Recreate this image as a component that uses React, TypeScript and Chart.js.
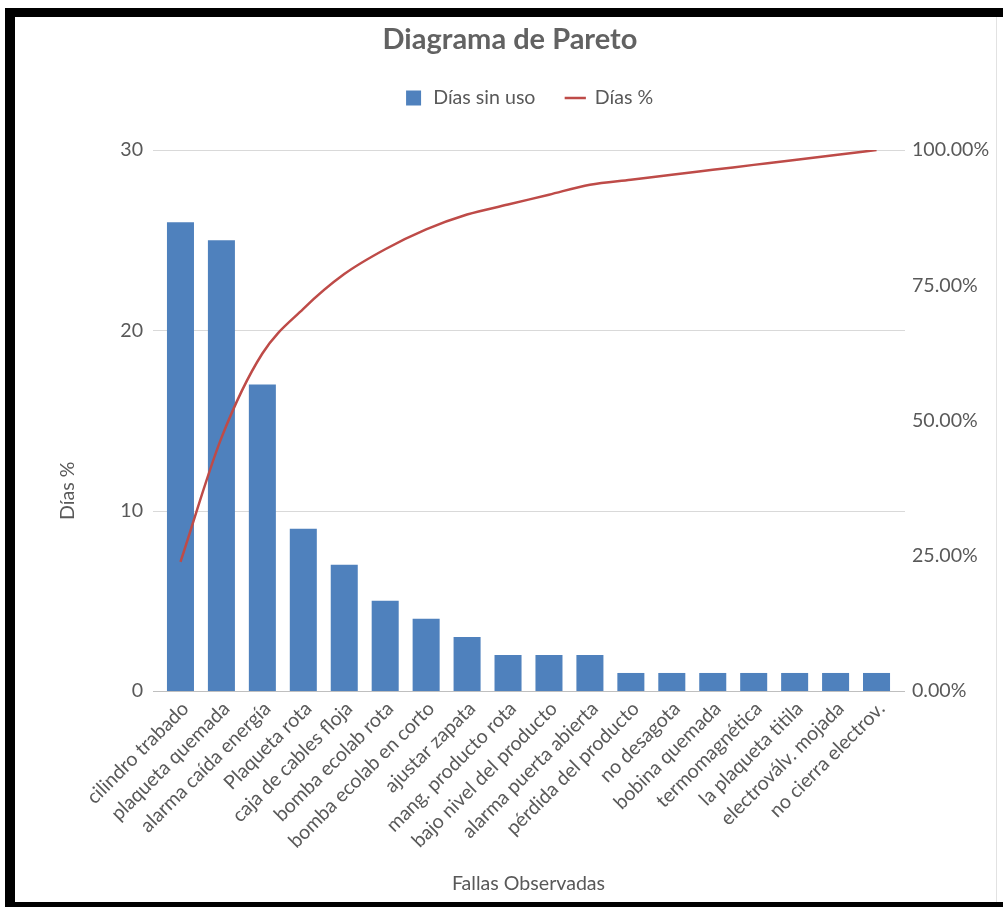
import React, { useEffect, useRef } from "react";
import { Chart, registerables } from "chart.js";

Chart.register(...registerables);

// ---- Data ----
const categories: string[] = [
  "cilindro trabado",
  "plaqueta quemada",
  "alarma caída energía",
  "Plaqueta rota",
  "caja de cables floja",
  "bomba ecolab rota",
  "bomba ecolab en corto",
  "ajustar zapata",
  "mang. producto rota",
  "bajo nivel del producto",
  "alarma puerta abierta",
  "pérdida del producto",
  "no desagota",
  "bobina quemada",
  "termomagnética",
  "la plaqueta titila",
  "electroválv. mojada",
  "no cierra electrov.",
];

const diasSinUso: number[] = [26, 25, 17, 9, 7, 5, 4, 3, 2, 2, 2, 1, 1, 1, 1, 1, 1, 1];

const diasPct: number[] = [
  23.85, 46.79, 62.39, 70.64, 77.06, 81.65, 85.32, 88.07, 89.91, 91.74, 93.58,
  94.5, 95.41, 96.33, 97.25, 98.17, 99.08, 100,
];

const leftTickValues: number[] = [0, 10, 20, 30];
const rightTickValues: number[] = [0, 25, 50, 75, 100];
const rightTickLabels: string[] = ["0.00%", "25.00%", "50.00%", "75.00%", "100.00%"];

const chartTitle = "Diagrama de Pareto";
const barLabel = "Días sin uso";
const lineLabel = "Días %";
const xAxisTitle = "Fallas Observadas";
const yAxisTitle = "Días %";

// ---- Styles ----
const FONT = "Lato, 'Open Sans', 'Liberation Sans', sans-serif";
const TEXT = "#595959";
const BAR = "#4F81BD";
const LINE = "#BE4B48";
const FS = 19.6;

const gridPlugin = {
  id: "extGrid",
  beforeDatasetsDraw(chart: any) {
    const { ctx, chartArea, scales } = chart;
    const y = scales.y;
    ctx.save();
    ctx.lineWidth = 1;
    y.ticks.forEach((t: any) => {
      const py = Math.round(y.getPixelForValue(t.value)) + 0.5;
      ctx.strokeStyle = t.value === 0 ? "#BFBFBF" : "#D9D9D9";
      ctx.beginPath();
      ctx.moveTo(chartArea.left - 7, py);
      ctx.lineTo(chartArea.right + 8, py);
      ctx.stroke();
    });
    ctx.restore();
  },
};

const yTitlePlugin = {
  id: "yTitle",
  afterDraw(chart: any) {
    const { ctx } = chart;
    const y = chart.scales.y;
    ctx.save();
    ctx.translate(68, y.getPixelForValue(11.1));
    ctx.rotate(-Math.PI / 2);
    ctx.font = `${FS}px ${FONT}`;
    ctx.fillStyle = TEXT;
    ctx.textAlign = "center";
    ctx.textBaseline = "middle";
    ctx.fillText(yAxisTitle, 0, 0);
    ctx.restore();
  },
};

export default function App() {
  const ref = useRef<HTMLCanvasElement>(null);

  useEffect(() => {
    if (!ref.current) return;
    const chart = new Chart(ref.current, {
      type: "bar",
      data: {
        labels: categories,
        datasets: [
          {
            type: "line",
            label: lineLabel,
            data: diasPct,
            yAxisID: "y1",
            borderColor: LINE,
            backgroundColor: LINE,
            borderWidth: 2.5,
            pointRadius: 0,
            pointStyle: "line",
            cubicInterpolationMode: "monotone",
            order: 0,
          } as any,
          {
            type: "bar",
            label: barLabel,
            data: diasSinUso,
            yAxisID: "y",
            backgroundColor: BAR,
            borderWidth: 0,
            pointStyle: "rect",
            barPercentage: 0.66,
            categoryPercentage: 1.0,
            order: 1,
          } as any,
        ],
      },
      options: {
        responsive: false,
        animation: false,
        events: [],
        layout: { padding: { left: 17, right: 0, top: 0, bottom: 0 } },
        plugins: {
          tooltip: { enabled: false },
          title: {
            display: true,
            text: chartTitle,
            color: "#626262",
            font: { family: FONT, size: 29, weight: "bold", lineHeight: 1.2 },
            padding: { top: 22.6, bottom: 0.8 },
          },
          subtitle: {
            display: true,
            text: "",
            weight: 500,
            font: { size: 1, lineHeight: 1 },
            padding: { top: 0, bottom: 31.2 },
          } as any,
          legend: {
            display: true,
            position: "top",
            fullSize: false,
            reverse: true,
            labels: {
              usePointStyle: true,
              boxWidth: 19.6,
              boxHeight: 15,
              padding: 30,
              color: TEXT,
              font: { family: FONT, size: FS },
            },
          } as any,
        },
        scales: {
          x: {
            type: "category",
            offset: true,
            grid: { display: false, drawTicks: false },
            border: { display: false },
            ticks: {
              autoSkip: false,
              maxRotation: 45,
              minRotation: 45,
              padding: 6,
              labelOffset: 5,
              color: TEXT,
              font: { family: FONT, size: FS },
            },
            title: {
              display: true,
              text: xAxisTitle,
              color: TEXT,
              font: { family: FONT, size: FS },
              padding: { top: 0, bottom: 12 },
            },
            afterFit(s: any) {
              s.height = 216;
            },
          },
          y: {
            position: "left",
            min: 0,
            max: 30,
            afterBuildTicks(s: any) {
              s.ticks = leftTickValues.map((v) => ({ value: v }));
            },
            grid: { display: false, drawTicks: false },
            border: { display: false },
            ticks: {
              padding: 17,
              color: TEXT,
              font: { family: FONT, size: FS },
            },
            afterFit(s: any) {
              s.width = 143;
            },
          },
          y1: {
            position: "right",
            min: 0,
            max: 100,
            afterBuildTicks(s: any) {
              s.ticks = rightTickValues.map((v) => ({ value: v }));
            },
            grid: { display: false, drawTicks: false },
            border: { display: false },
            ticks: {
              padding: 15,
              color: TEXT,
              font: { family: FONT, size: FS },
              callback: (_v: any, i: number) => rightTickLabels[i],
            },
            afterFit(s: any) {
              s.width = 106;
            },
          },
        },
      } as any,
      plugins: [gridPlugin, yTitlePlugin],
    });
    return () => chart.destroy();
  }, []);

  return (
    <div
      style={{
        position: "fixed",
        left: 0,
        top: 0,
        width: 1003,
        height: 907,
        background: "#fff",
        overflow: "hidden",
      }}
    >
      <canvas
        ref={ref}
        width={1003}
        height={907}
        style={{ position: "absolute", left: 0, top: 0, width: 1003, height: 907 }}
      />
      <div
        style={{
          position: "absolute",
          left: 5,
          top: 8,
          width: 998,
          height: 899,
          boxSizing: "border-box",
          borderTop: "9px solid #000",
          borderLeft: "10px solid #000",
          borderBottom: "5px solid #000",
          pointerEvents: "none",
        }}
      />
      <div
        style={{
          position: "absolute",
          left: 996,
          top: 17,
          width: 1,
          height: 885,
          background: "#e2e2e2",
          pointerEvents: "none",
        }}
      />
    </div>
  );
}
